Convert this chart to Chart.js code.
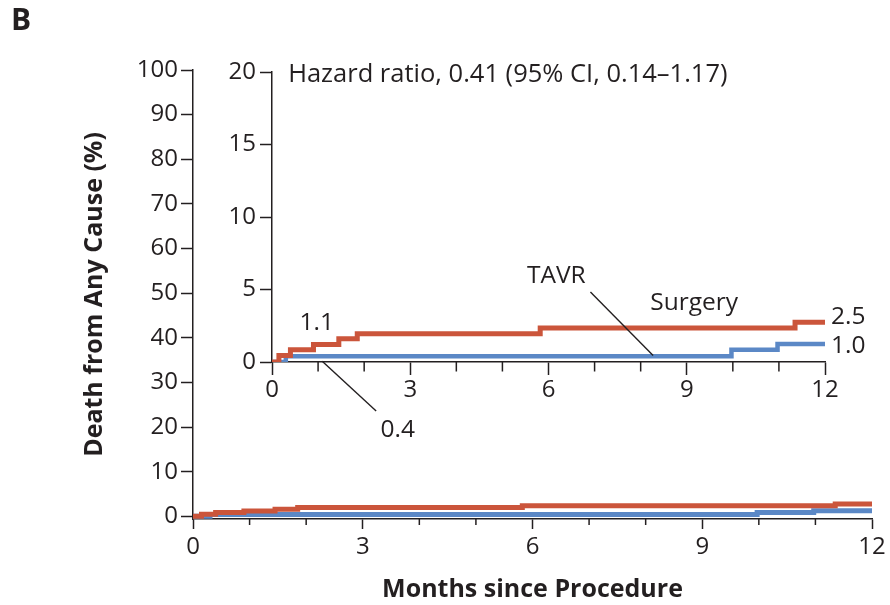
<!DOCTYPE html>
<html><head><meta charset="utf-8">
<script src="https://cdn.jsdelivr.net/npm/chart.js@4.4.1/dist/chart.umd.min.js"></script>
<style>
html,body{margin:0;padding:0;background:#fff;}
#wrap{position:relative;width:890px;height:605px;overflow:hidden;background:#fff;}
#wrap canvas{position:absolute;}
#mainCanvas{left:0;top:0;}
#insetCanvas{left:200px;top:40px;}
</style></head><body>
<div id="wrap"><canvas id="mainCanvas" width="890" height="605"></canvas><canvas id="insetCanvas" width="690" height="410"></canvas></div>
<script>
// ---- data ----
const seriesNames   = ['Surgery', 'TAVR'];
const surgeryMonths = [0, 0.15, 0.4, 0.9, 1.45, 1.85, 5.82, 11.35, 12];
const surgeryPct    = [0, 0.45, 0.85, 1.2, 1.6, 1.95, 2.35, 2.75, 2.75];
const tavrMonths    = [0, 0.3, 9.97, 10.97, 12];
const tavrPct       = [0, 0.4, 0.85, 1.25, 1.25];
const majorMonths   = [0, 3, 6, 9, 12];
const minorMonths   = [1, 2, 4, 5, 7, 8, 10, 11];
const mainYTicks    = [0, 10, 20, 30, 40, 50, 60, 70, 80, 90, 100];
const insetYTicks   = [0, 5, 10, 15, 20];
const panelLabel    = 'B';
const yTitle        = 'Death from Any Cause (%)';
const xTitle        = 'Months since Procedure';
const hazardText    = 'Hazard ratio, 0.41 (95% CI, 0.14–1.17)';
const endLabels     = ['2.5', '1.0'];
const calloutLabels = ['1.1', '0.4'];

// ---- styling ----
const INK = '#231f20';
const RED = '#cb553b';
const BLUE = '#5b88c6';
const FAM = "'Open Sans', 'Noto Sans', sans-serif";

function pts(xs, ys) { return xs.map((x, i) => ({x: x, y: ys[i]})); }

function datasets(wr, wb) {
  return [
    {label: seriesNames[0], data: pts(surgeryMonths, surgeryPct), borderColor: RED, borderWidth: wr,
     stepped: 'before', pointRadius: 0, fill: false, borderCapStyle: 'butt', borderJoinStyle: 'miter'},
    {label: seriesNames[1], data: pts(tavrMonths, tavrPct), borderColor: BLUE, borderWidth: wb,
     stepped: 'before', pointRadius: 0, fill: false, borderCapStyle: 'butt', borderJoinStyle: 'miter'}
  ];
}

const minorTickPlugin = {
  id: 'minorTicks',
  afterDraw(chart, args, opts) {
    const xs = chart.scales.x, ctx = chart.ctx;
    ctx.save(); ctx.strokeStyle = INK; ctx.lineWidth = opts.width;
    opts.values.forEach(v => {
      const p = xs.getPixelForValue(v);
      ctx.beginPath(); ctx.moveTo(p, xs.top); ctx.lineTo(p, xs.top + opts.length); ctx.stroke();
    });
    ctx.restore();
  }
};

const notesPlugin = {
  id: 'notes',
  afterDatasetsDraw(chart, args, opts) {
    const ctx = chart.ctx, xs = chart.scales.x, ys = chart.scales.y;
    ctx.save();
    (opts.lines || []).forEach(l => {
      ctx.strokeStyle = INK; ctx.lineWidth = 1.4;
      ctx.beginPath();
      ctx.moveTo(xs.getPixelForValue(l.x1), ys.getPixelForValue(l.y1));
      ctx.lineTo(xs.getPixelForValue(l.x2), ys.getPixelForValue(l.y2));
      ctx.stroke();
    });
    (opts.texts || []).forEach(t => {
      ctx.font = t.font || opts.font; ctx.fillStyle = INK;
      ctx.textAlign = t.align || 'center'; ctx.textBaseline = 'middle';
      const px = t.px != null ? t.px : xs.getPixelForValue(t.x);
      const py = t.py != null ? t.py : ys.getPixelForValue(t.y);
      ctx.fillText(t.text, px, py);
    });
    ctx.restore();
  }
};

function axisCommon(tickLen, pad) {
  return {
    grid: {drawOnChartArea: false, drawTicks: true, tickLength: tickLen, tickColor: INK, tickWidth: 1.5},
    border: {display: true, color: INK, width: 1.5},
    ticks: {color: INK, font: {family: FAM, size: 24}, padding: pad, autoSkip: false, maxRotation: 0}
  };
}

// ---- main chart ----
const mainX = axisCommon(10, 4);
Object.assign(mainX, {
  type: 'linear', min: 0, max: 12,
  afterBuildTicks: s => { s.ticks = majorMonths.map(v => ({value: v})); },
  afterFit: s => { s.height = 86; },
  title: {display: true, text: xTitle, color: INK, font: {family: FAM, size: 25, weight: 'bold'}, padding: {top: 0, bottom: 0}}
});
const mainY = axisCommon(12, 3);
Object.assign(mainY, {
  type: 'linear', min: -0.6, max: 100,
  afterBuildTicks: s => { s.ticks = mainYTicks.map(v => ({value: v})); },
  afterFit: s => { s.width = 193; },
  title: {display: true, text: yTitle, color: INK, font: {family: FAM, size: 25, weight: 'bold'}, padding: {top: 80, bottom: 0}}
});

new Chart(document.getElementById('mainCanvas'), {
  type: 'line',
  data: {datasets: datasets(5, 5)},
  options: {
    responsive: false, animation: false, events: [],
    layout: {padding: {left: 0, top: 70, right: 18, bottom: 0}},
    scales: {x: mainX, y: mainY},
    plugins: {
      legend: {display: false}, tooltip: {enabled: false},
      minorTicks: {values: minorMonths, length: 6, width: 1.5},
      notes: {font: 'bold 30px ' + FAM, texts: [{text: panelLabel, px: 11, py: 21, align: 'left'}]}
    }
  },
  plugins: [minorTickPlugin, notesPlugin]
});

// ---- inset chart ----
const insX = axisCommon(13, 1);
Object.assign(insX, {
  type: 'linear', min: 0, max: 12,
  afterBuildTicks: s => { s.ticks = majorMonths.map(v => ({value: v})); },
  afterFit: s => { s.height = 88; }
});
const insY = axisCommon(12, 4);
Object.assign(insY, {
  type: 'linear', min: 0, max: 20,
  afterBuildTicks: s => { s.ticks = insetYTicks.map(v => ({value: v})); },
  afterFit: s => { s.width = 72; }
});

const noteFont = '24.5px ' + FAM;
new Chart(document.getElementById('insetCanvas'), {
  type: 'line',
  data: {datasets: datasets(5, 4.5)},
  options: {
    responsive: false, animation: false, events: [],
    layout: {padding: {left: 0, top: 32, right: 65, bottom: 0}},
    scales: {x: insX, y: insY},
    plugins: {
      legend: {display: false}, tooltip: {enabled: false},
      minorTicks: {values: minorMonths, length: 9.5, width: 1.5},
      notes: {
        font: noteFont,
        lines: [
          {x1: 6.91, y1: 4.83, x2: 8.27, y2: 0.45},
          {x1: 1.09, y1: 0.05, x2: 2.26, y2: -3.38}
        ],
        texts: [
          {text: hazardText, x: 0.35, y: 19.8, align: 'left', font: '25.5px ' + FAM},
          {text: seriesNames[1], x: 6.17, y: 5.95},
          {text: seriesNames[0], x: 9.16, y: 4.1},
          {text: endLabels[0], x: 12.13, y: 3.1, align: 'left'},
          {text: endLabels[1], x: 12.13, y: 1.1, align: 'left'},
          {text: calloutLabels[0], x: 0.97, y: 2.7},
          {text: calloutLabels[1], x: 2.73, y: -4.7}
        ]
      }
    }
  },
  plugins: [minorTickPlugin, notesPlugin]
});
</script>
</body></html>
